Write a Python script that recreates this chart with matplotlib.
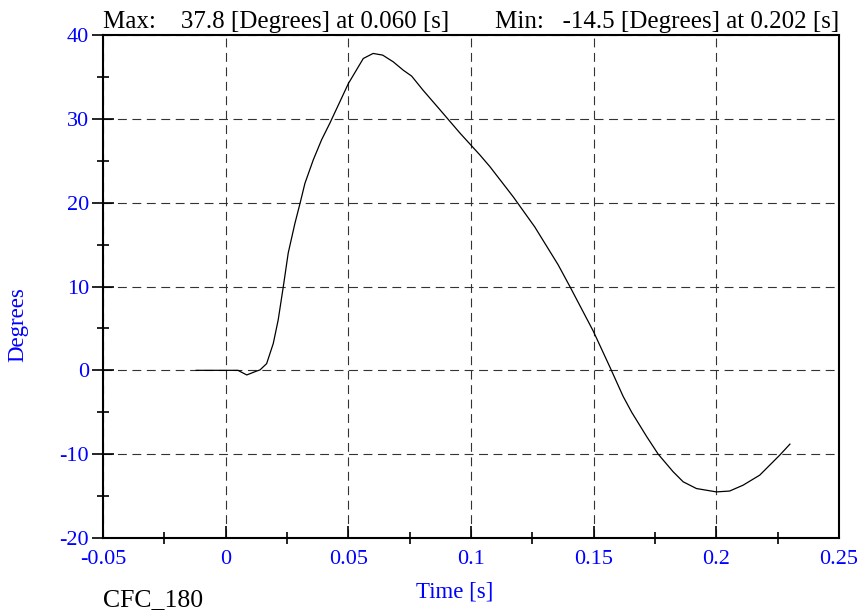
import matplotlib.pyplot as plt
from matplotlib.ticker import MultipleLocator

# Angle trace (time in s, angle in degrees)
time_s = [-0.012, 0.0, 0.005, 0.0086, 0.0125, 0.014, 0.0167, 0.0194, 0.0214,
          0.0235, 0.0255, 0.0282, 0.0303, 0.0323, 0.0357, 0.0391, 0.0425,
          0.05, 0.0561, 0.0601, 0.064, 0.0683, 0.0724, 0.0758, 0.0805,
          0.0873, 0.0955, 0.1036, 0.1077, 0.1172, 0.126, 0.1355, 0.1403,
          0.1498, 0.1566, 0.162, 0.1655, 0.1716, 0.1763, 0.1824, 0.1865,
          0.1919, 0.2, 0.2054, 0.2109, 0.2177, 0.2259, 0.23]
degrees = [0.0, 0.0, 0.0, -0.55, -0.1, 0.05, 0.8, 3.2, 6.0,
           10.0, 14.0, 17.5, 19.9, 22.3, 25.1, 27.5, 29.5,
           34.2, 37.2, 37.8, 37.6, 36.8, 35.8, 35.1, 33.4,
           31.1, 28.3, 25.7, 24.3, 20.7, 17.1, 12.6, 10.0,
           4.7, 0.4, -3.1, -5.0, -7.9, -10.0, -12.1, -13.3,
           -14.1, -14.5, -14.4, -13.7, -12.5, -10.1, -8.8]

x_ticks = [-0.05, 0, 0.05, 0.1, 0.15, 0.2, 0.25]
x_labels = ["-0.05", "0", "0.05", "0.1", "0.15", "0.2", "0.25"]
y_ticks = [-20, -10, 0, 10, 20, 30, 40]

max_text = "Max:    37.8 [Degrees] at 0.060 [s]"
min_text = "Min:   -14.5 [Degrees] at 0.202 [s]"
filter_text = "CFC_180"

BLUE = "#0000ff"
plt.rcParams["font.family"] = ["Liberation Serif", "DejaVu Serif"]
plt.rcParams["axes.unicode_minus"] = False

fig = plt.figure(figsize=(8.64, 6.11), dpi=100)
W, H = 864, 611
ax = fig.add_axes([103 / W, 1 - 538 / H, (839 - 103) / W, (538 - 35) / H])

ax.plot(time_s, degrees, color="black", linewidth=0.9)

ax.set_xlim(-0.05, 0.25)
ax.set_ylim(-20, 40)
ax.set_xticks(x_ticks)
ax.set_xticklabels(x_labels)
ax.set_yticks(y_ticks)
ax.xaxis.set_minor_locator(MultipleLocator(0.025))
ax.yaxis.set_minor_locator(MultipleLocator(5))

ax.grid(True, which="major", color="#333333", linestyle=(0, (8, 5)), linewidth=0.8)

for s in ax.spines.values():
    s.set_linewidth(1.5)

ax.tick_params(axis="x", which="major", direction="in", length=9, width=1.2,
               labelsize=16, labelcolor=BLUE, pad=9)
ax.tick_params(axis="x", which="minor", direction="inout", length=9, width=1.2)
ax.tick_params(axis="y", which="major", direction="inout", length=16, width=1.2,
               labelsize=16, labelcolor=BLUE, pad=2)
ax.tick_params(axis="y", which="minor", direction="inout", length=9, width=1.2)

fig.text(103 / W, 1 - 28 / H, max_text, fontsize=18, ha="left", va="baseline")
fig.text(839 / W, 1 - 28 / H, min_text, fontsize=18, ha="right", va="baseline")
fig.text(455 / W, 1 - 592 / H, "Time [s]", fontsize=16.5, color=BLUE,
         ha="center", va="center")
fig.text(18 / W, 1 - 325 / H, "Degrees", fontsize=16.5, color=BLUE,
         rotation=90, ha="center", va="center")
fig.text(103 / W, 1 - 606 / H, filter_text, fontsize=18.5, ha="left", va="baseline")

fig.savefig("out.png", dpi=100)
